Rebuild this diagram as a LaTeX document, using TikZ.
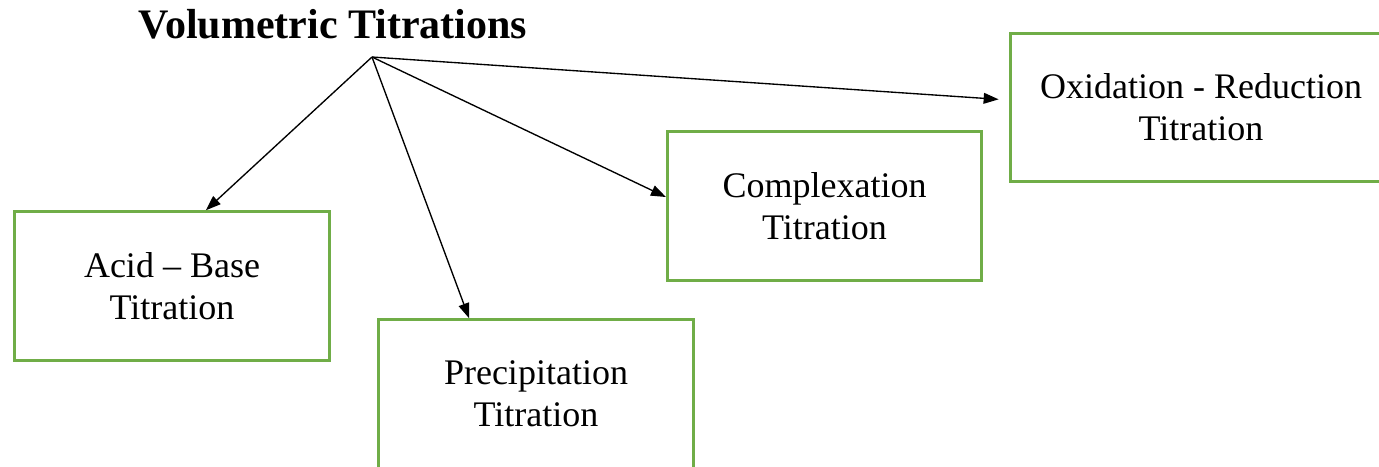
\documentclass[tikz,border=0pt]{standalone}
\usepackage{fontspec}
\setmainfont{Liberation Serif}
\usetikzlibrary{arrows.meta}
\definecolor{boxgreen}{HTML}{70AD47}

\begin{document}
\begin{tikzpicture}[x=0.3333pt,y=-0.3333pt,
  kind/.style={draw=boxgreen,line width=1pt,minimum width=104.7pt,minimum height=49.5pt,
    align=center,font=\fontsize{12}{14}\selectfont},
  link/.style={line width=0.45pt,-{Triangle[length=5pt,width=3.6pt]}}]
  \useasboundingbox (0,0) rectangle (1379,466);
  \clip (0,0) rectangle (1379,466);

  \node[anchor=base,font=\fontsize{14}{17}\selectfont\bfseries] (title) at (333,38) {Volumetric Titrations};
  \coordinate (hub) at (372,57);

  \node[kind] (acid) at (172,286) {Acid -- Base\\Titration};
  \node[kind] (precip) at (536,394) {Precipitation\\Titration};
  \node[kind] (complex) at (824.5,206) {Complexation\\Titration};
  \node[kind,minimum width=127.3pt] (redox) at (1201,107.5) {Oxidation - Reduction\\Titration};

  \draw[link] (hub) -- ([xshift=11.3pt]acid.north);
  \draw[link] (hub) -- ([xshift=-22.3pt]precip.north);
  \draw[link] (hub) -- ([yshift=3pt]complex.west);
  \draw[link,shorten >=3.3pt] (hub) -- ([yshift=2.5pt]redox.west);
\end{tikzpicture}
\end{document}
